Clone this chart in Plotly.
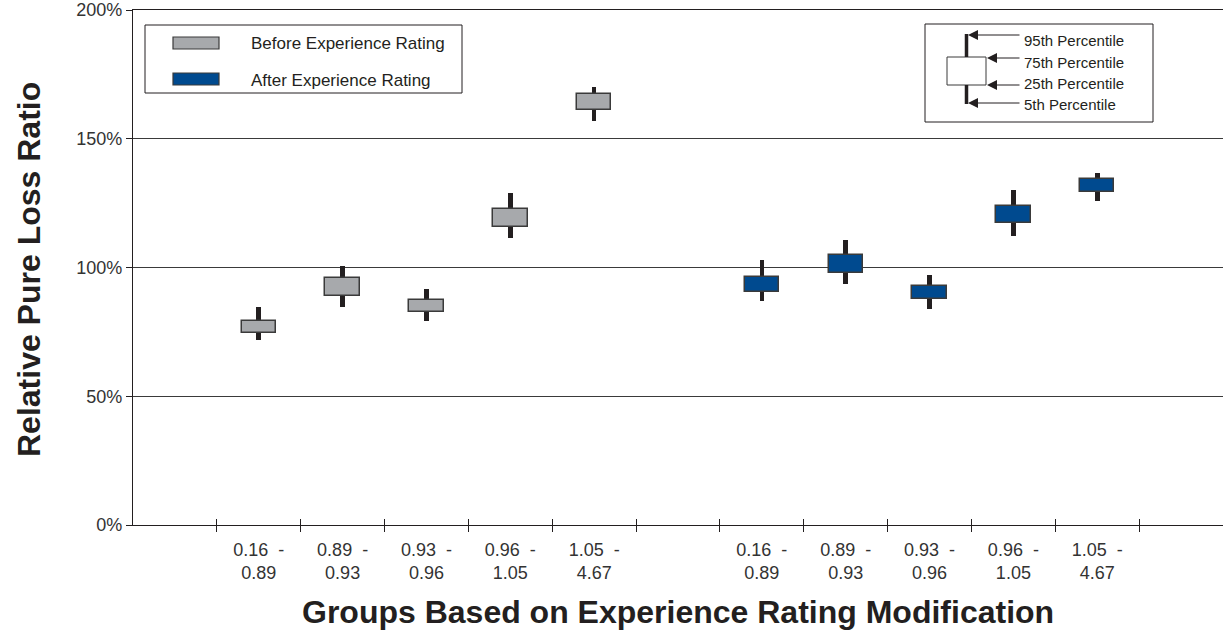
import plotly.graph_objects as go

# ---------------- data ----------------
group_labels = ["0.16\u00a0\u00a0-<br>0.89", "0.89\u00a0\u00a0-<br>0.93", "0.93\u00a0\u00a0-<br>0.96",
                "0.96\u00a0\u00a0-<br>1.05", "1.05\u00a0\u00a0-<br>4.67"]

before_p5 = [71.8, 84.7, 79.2, 111.3, 156.9]
before_p25 = [74.6, 88.9, 82.7, 115.7, 161.2]
before_p75 = [79.2, 95.9, 87.4, 122.7, 167.4]
before_p95 = [84.7, 100.6, 91.7, 128.9, 170.1]

after_p5 = [87.0, 93.6, 83.9, 112.2, 125.8]
after_p25 = [90.5, 97.9, 87.8, 117.3, 129.3]
after_p75 = [96.3, 104.9, 92.8, 123.9, 134.4]
after_p95 = [102.9, 110.7, 97.1, 130.1, 136.7]

y_ticks = [0, 50, 100, 150, 200]
y_tick_labels = ["0%", "50%", "100%", "150%", "200%"]

# category slots: 13 slots, before in slots 1-5, after in slots 7-11
x_before = [i + 1.5 for i in range(len(group_labels))]
x_after = [i + 7.5 for i in range(len(group_labels))]
slot_bounds = list(range(1, 13))

FONT = "Liberation Sans, Arial, Helvetica, sans-serif"
GREY = "#a7a9ac"
BLUE = "#004a8f"
DARK = "#231f20"
BOXLINE = "#3a3a3a"

fig = go.Figure()


def add_series(xs, p5, p25, p75, p95, color):
    fig.add_trace(go.Bar(
        x=xs, y=[h - l for l, h in zip(p5, p95)], base=p5, width=0.055,
        marker=dict(color=DARK, line=dict(width=0)), showlegend=False, hoverinfo="skip"))
    fig.add_trace(go.Bar(
        x=xs, y=[h - l for l, h in zip(p25, p75)], base=p25, width=0.41,
        marker=dict(color=color, line=dict(color=BOXLINE, width=1.5)), showlegend=False,
        hoverinfo="skip"))


add_series(x_before, before_p5, before_p25, before_p75, before_p95, GREY)
add_series(x_after, after_p5, after_p25, after_p75, after_p95, BLUE)

# helper traces for the crossing tick marks
fig.add_trace(go.Scatter(x=[], y=[], xaxis="x2", yaxis="y", showlegend=False))
fig.add_trace(go.Scatter(x=[], y=[], xaxis="x3", yaxis="y", showlegend=False))

W, H = 1224, 632
L, R, T, B = 133, 1223, 10, 525   # plot area in page pixels


def px(x):
    return (x - L) / (R - L)


def py(y):
    return (B - y) / (B - T)


shapes = []
annotations = []

# legend box (series)
shapes.append(dict(type="rect", xref="paper", yref="paper", x0=px(145), x1=px(462), y0=py(25), y1=py(93),
                   line=dict(color=DARK, width=1), fillcolor="white"))
for (yc, col, txt) in [(43, GREY, "Before Experience Rating"), (79, BLUE, "After Experience Rating")]:
    shapes.append(dict(type="rect", xref="paper", yref="paper", x0=px(173), x1=px(219),
                       y0=py(yc - 6), y1=py(yc + 6), line=dict(color=BOXLINE, width=1.2), fillcolor=col))
    annotations.append(dict(xref="paper", yref="paper", x=px(249), y=py(yc + 1), text=txt, showarrow=False,
                            xanchor="left", yanchor="middle", font=dict(family=FONT, size=17, color=DARK)))

# percentile key box
shapes.append(dict(type="rect", xref="paper", yref="paper", x0=px(925), x1=px(1153), y0=py(24), y1=py(122),
                   line=dict(color=DARK, width=1), fillcolor="white"))
shapes.append(dict(type="rect", xref="paper", yref="paper", x0=px(947), x1=px(986), y0=py(57), y1=py(85),
                   line=dict(color=BOXLINE, width=1), fillcolor="white"))
shapes.append(dict(type="line", xref="paper", yref="paper", x0=px(966.5), x1=px(966.5), y0=py(34), y1=py(57),
                   line=dict(color=DARK, width=3.5)))
shapes.append(dict(type="line", xref="paper", yref="paper", x0=px(966.5), x1=px(966.5), y0=py(85), y1=py(104),
                   line=dict(color=DARK, width=3.5)))
for (tipx, ya, yt, txt) in [(968, 35, 41, "95th Percentile"), (987, 58, 62, "75th Percentile"),
                            (987, 85, 84, "25th Percentile"), (968, 103, 104, "5th Percentile")]:
    annotations.append(dict(xref="paper", yref="paper", x=px(tipx), y=py(ya), ax=1021 - tipx, ay=0,
                            text="", showarrow=True, arrowhead=2, arrowsize=2, arrowwidth=1,
                            arrowcolor=DARK))
    annotations.append(dict(xref="paper", yref="paper", x=px(1022), y=py(yt), text=txt, showarrow=False,
                            xanchor="left", yanchor="middle", font=dict(family=FONT, size=15, color=DARK)))

# axis titles
annotations.append(dict(xref="paper", yref="paper", x=px(678), y=py(612),
                        text="<b>Groups Based on Experience Rating Modification</b>", showarrow=False,
                        xanchor="center", yanchor="middle", font=dict(family=FONT, size=32, color=DARK)))
annotations.append(dict(xref="paper", yref="paper", x=px(29), y=py(270),
                        text="<b>Relative Pure Loss Ratio</b>", showarrow=False, textangle=-90,
                        xanchor="center", yanchor="middle", font=dict(family=FONT, size=32, color=DARK)))

fig.update_layout(
    width=W, height=H,
    margin=dict(l=L, r=W - R, t=T, b=H - B, autoexpand=False),
    paper_bgcolor="white", plot_bgcolor="white",
    barmode="overlay", bargap=0,
    showlegend=False,
    font=dict(family=FONT, size=18, color=DARK),
    shapes=shapes, annotations=annotations,
    xaxis=dict(range=[0, 13], tickmode="array", tickvals=x_before + x_after, ticktext=group_labels * 2,
               ticks="", showline=True, mirror=True, linecolor=DARK, linewidth=1.3, showgrid=False,
               zeroline=False, tickfont=dict(family=FONT, size=18, color="#333333"), ticklabelstandoff=8),
    xaxis2=dict(range=[0, 13], overlaying="x", anchor="y", tickmode="array", tickvals=slot_bounds,
                ticks="outside", ticklen=6, tickwidth=1.2, tickcolor=DARK, showticklabels=False,
                showline=False, showgrid=False, zeroline=False),
    xaxis3=dict(range=[0, 13], overlaying="x", anchor="y", tickmode="array", tickvals=slot_bounds,
                ticks="inside", ticklen=6, tickwidth=1.2, tickcolor=DARK, showticklabels=False,
                showline=False, showgrid=False, zeroline=False),
    yaxis=dict(range=[0, 200], tickmode="array", tickvals=y_ticks, ticktext=y_tick_labels,
               ticks="outside", ticklen=6, tickwidth=1.2, tickcolor=DARK,
               showline=True, linecolor=DARK, linewidth=1.3, ticklabeloverflow="allow",
               showgrid=True, gridcolor="#3a3a3a", gridwidth=1.2, zeroline=False,
               tickfont=dict(family=FONT, size=18, color="#333333")),
)

# remove the browser's default body margin so the figure fills the window exactly
fig.write_html("out.html", config={"displayModeBar": False},
               post_script="document.body.style.margin='0px';")
